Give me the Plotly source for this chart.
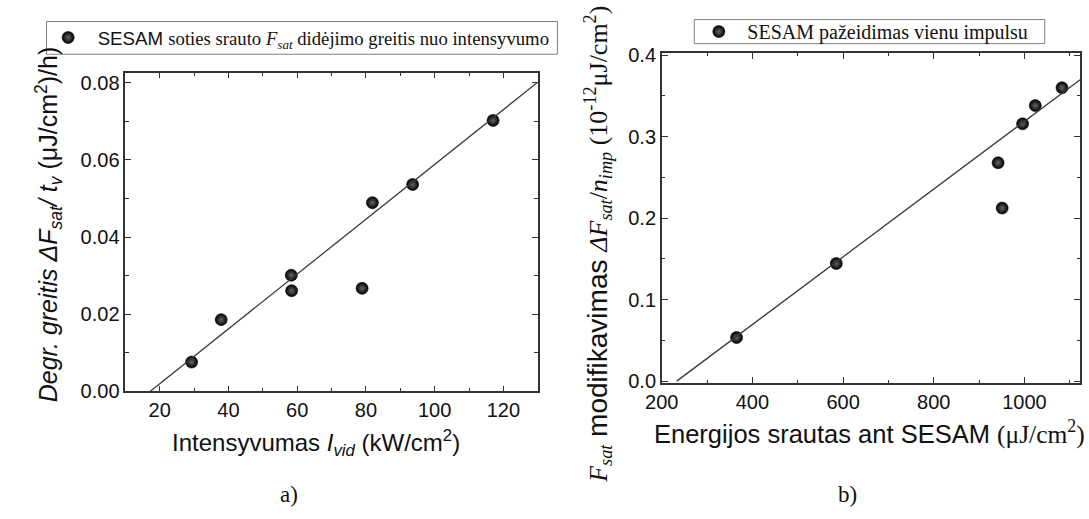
import plotly.graph_objects as go

W, H = 1089, 519

# Panel a): degradation rate vs average intensity
intensity = [29.3, 37.9, 58.3, 58.4, 78.9, 81.9, 93.6, 117.0]
degr_rate = [0.0076, 0.0186, 0.0301, 0.0261, 0.0267, 0.0489, 0.0536, 0.0702]
fit_a_x = [17.2, 130.0]
fit_a_y = [0.0, 0.0801]

# Panel b): single-pulse modification vs fluence on SESAM
fluence = [365, 585, 942, 951, 996, 1024, 1083]
mod_per_pulse = [0.0535, 0.1443, 0.268, 0.2124, 0.3158, 0.3382, 0.3601]
fit_b_x = [233.0, 1123.0]
fit_b_y = [0.0, 0.370]

SANS = "Liberation Sans"
SERIF = "Liberation Serif"
AXIS_COL = "#333333"


def px(x):
    return x / W


def py(y):
    return 1 - y / H


sphere = dict(symbol="circle", size=12, color="#000000",
              gradient=dict(type="radial", color="#666666"),
              line=dict(width=0.6, color="#000000"))

fig = go.Figure()

fig.add_trace(go.Scatter(
    x=intensity, y=degr_rate, mode="markers", marker=sphere,
    name=('SESAM <span style="font-family:%s">soties srauto <i>F<sub>sat</sub></i> '
          'didėjimo greitis nuo intensyvumo</span>' % SERIF),
    xaxis="x", yaxis="y", legend="legend"))
fig.add_trace(go.Scatter(
    x=fit_a_x, y=fit_a_y, mode="lines", line=dict(color="#3a3a3a", width=1.3),
    showlegend=False, xaxis="x", yaxis="y", cliponaxis=True))

fig.add_trace(go.Scatter(
    x=fluence, y=mod_per_pulse, mode="markers", marker=sphere,
    name="SESAM pažeidimas vienu impulsu",
    xaxis="x2", yaxis="y2", legend="legend2"))
fig.add_trace(go.Scatter(
    x=fit_b_x, y=fit_b_y, mode="lines", line=dict(color="#3a3a3a", width=1.3),
    showlegend=False, xaxis="x2", yaxis="y2", cliponaxis=True))

common = dict(showline=True, linecolor=AXIS_COL, linewidth=1.5, mirror="ticks",
              ticks="inside", ticklen=6, tickwidth=1.2, tickcolor=AXIS_COL,
              showgrid=False, zeroline=False,
              tickfont=dict(family=SANS, size=20, color="#111111"))

fig.update_layout(
    width=W, height=H, margin=dict(l=0, r=0, t=0, b=0),
    paper_bgcolor="white", plot_bgcolor="white",
    xaxis=dict(domain=[px(110), px(529)], range=[10, 130], tick0=0, dtick=20,
               minor=dict(ticks="inside", ticklen=3.5, dtick=10, tickcolor=AXIS_COL),
               anchor="y", **common),
    yaxis=dict(domain=[py(398), py(67)], range=[0, 0.0826], tick0=0, dtick=0.02,
               tickformat=".2f",
               minor=dict(ticks="inside", ticklen=3.5, dtick=0.01, tickcolor=AXIS_COL),
               anchor="x", **common),
    xaxis2=dict(domain=[px(655), px(1080)], range=[200, 1123], tick0=0, dtick=200,
                minor=dict(ticks="inside", ticklen=3.5, dtick=100, tickcolor=AXIS_COL),
                anchor="y2", **common),
    yaxis2=dict(domain=[py(389), py(46.5)], range=[-0.002, 0.403], tick0=0, dtick=0.1,
                tickformat=".1f",
                minor=dict(ticks="inside", ticklen=3.5, dtick=0.05, tickcolor=AXIS_COL),
                anchor="x2", **common),
    legend=dict(x=px(22), y=py(31), xanchor="left", yanchor="middle",
                bgcolor="rgba(0,0,0,0)", borderwidth=0, itemwidth=49,
                font=dict(family=SANS, size=18.7, color="#111111")),
    legend2=dict(x=px(684), y=py(24.5), xanchor="left", yanchor="middle",
                 bgcolor="rgba(0,0,0,0)", borderwidth=0, itemwidth=47,
                 font=dict(family=SERIF, size=20, color="#111111")),
)

# legend frames
for x0, y0, x1, y1 in [(30, 14, 549, 48), (688, 12, 1044, 37)]:
    fig.add_shape(type="rect", xref="paper", yref="paper",
                  x0=px(x0), x1=px(x1), y0=py(y1), y1=py(y0),
                  line=dict(color="#808080", width=1), fillcolor="rgba(0,0,0,0)")

ann = [
    # axis titles
    dict(x=px(304), y=py(452),
         text="Intensyvumas <i>I<sub>vid</sub></i> (kW/cm<sup>2</sup>)",
         font=dict(family=SANS, size=24)),
    dict(x=px(32), y=py(225), textangle=-90,
         text="<i>Degr. greitis ΔF<sub>sat</sub>/ t<sub>v</sub></i> (μJ/cm<sup>2</sup>)/h)",
         font=dict(family=SANS, size=25)),
    dict(x=px(866), y=py(441),
         text=('Energijos srautas ant SESAM <span style="font-family:%s">'
               '(μJ/cm<sup>2</sup>)</span>' % SERIF),
         font=dict(family=SANS, size=25.5)),
    dict(x=px(590), y=py(245), textangle=-90,
         text=('<span style="font-family:%s;font-size:26px"><i>F<sub>sat</sub></i></span> '
               'modifikavimas '
               '<span style="font-family:%s;font-size:26px"><i>ΔF<sub>sat</sub></i>/'
               '<i>n<sub>imp</sub></i> (10<sup>-12</sup>μJ/cm<sup>2</sup>)</span>'
               % (SERIF, SERIF)),
         font=dict(family=SANS, size=28)),
    # panel captions
    dict(x=px(276), y=py(505), text="a)", font=dict(family=SERIF, size=23)),
    dict(x=px(844), y=py(505), text="b)", font=dict(family=SERIF, size=23)),
]
for a in ann:
    a.setdefault("xref", "paper")
    a.setdefault("yref", "paper")
    a["showarrow"] = False
    a["xanchor"] = "center"
    a["yanchor"] = "middle"
    a["font"]["color"] = "#111111"
    fig.add_annotation(**a)

fig.write_html("out.html")
